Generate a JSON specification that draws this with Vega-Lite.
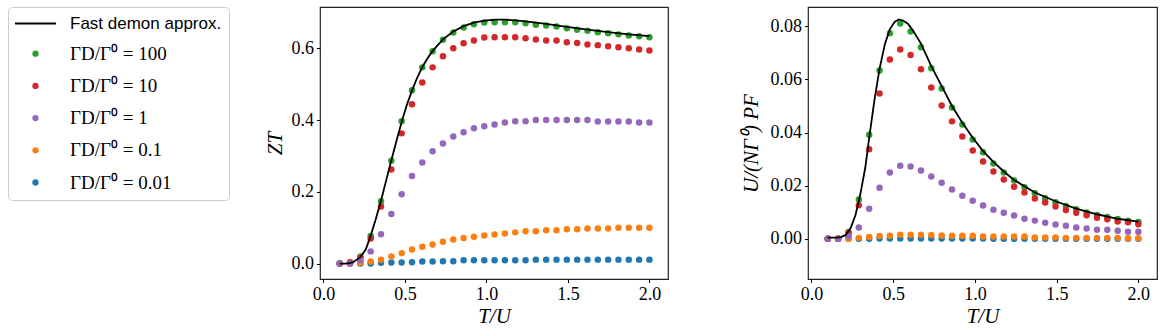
{
  "$schema": "https://vega.github.io/schema/vega-lite/v6.json",
  "background": "white",
  "padding": {"left": 7, "top": 6, "right": 5, "bottom": 0},
  "autosize": {"type": "pad"},
  "spacing": 70,
  "datasets": {
    "pts": [
      {"s":"0.01","x":0.1,"zt":0,"pf":0},{"s":"0.01","x":0.1633,"zt":0,"pf":0},{"s":"0.01","x":0.2267,"zt":0,"pf":0},{"s":"0.01","x":0.29,"zt":0,"pf":0},{"s":"0.01","x":0.3533,"zt":0.002,"pf":0},{"s":"0.01","x":0.4167,"zt":0.003,"pf":0.0001},{"s":"0.01","x":0.48,"zt":0.003,"pf":0.0001},{"s":"0.01","x":0.5433,"zt":0.004,"pf":0.0001},{"s":"0.01","x":0.6067,"zt":0.006,"pf":0.0001},{"s":"0.01","x":0.67,"zt":0.006,"pf":0.0001},{"s":"0.01","x":0.7333,"zt":0.0065,"pf":0.0001},{"s":"0.01","x":0.7967,"zt":0.0065,"pf":0.0001},{"s":"0.01","x":0.86,"zt":0.009,"pf":0.0001},{"s":"0.01","x":0.9233,"zt":0.009,"pf":0.0001},{"s":"0.01","x":0.9867,"zt":0.009,"pf":0.0001},{"s":"0.01","x":1.05,"zt":0.009,"pf":0.0001},{"s":"0.01","x":1.1133,"zt":0.009,"pf":0},{"s":"0.01","x":1.1767,"zt":0.009,"pf":0},{"s":"0.01","x":1.24,"zt":0.009,"pf":0},{"s":"0.01","x":1.3033,"zt":0.011,"pf":0},{"s":"0.01","x":1.3667,"zt":0.011,"pf":0},{"s":"0.01","x":1.43,"zt":0.011,"pf":0},{"s":"0.01","x":1.4933,"zt":0.011,"pf":0},{"s":"0.01","x":1.5567,"zt":0.011,"pf":0},{"s":"0.01","x":1.62,"zt":0.011,"pf":0},{"s":"0.01","x":1.6833,"zt":0.011,"pf":0},{"s":"0.01","x":1.7467,"zt":0.011,"pf":0},{"s":"0.01","x":1.81,"zt":0.011,"pf":0},{"s":"0.01","x":1.8733,"zt":0.011,"pf":0},{"s":"0.01","x":1.9367,"zt":0.011,"pf":0},{"s":"0.01","x":2.0,"zt":0.011,"pf":0},
      {"s":"0.1","x":0.1,"zt":0,"pf":0},{"s":"0.1","x":0.1633,"zt":0,"pf":0},{"s":"0.1","x":0.2267,"zt":0.002,"pf":0},{"s":"0.1","x":0.29,"zt":0.006,"pf":0.0003},{"s":"0.1","x":0.3533,"zt":0.011,"pf":0.0006},{"s":"0.1","x":0.4167,"zt":0.02,"pf":0.001},{"s":"0.1","x":0.48,"zt":0.029,"pf":0.0011},{"s":"0.1","x":0.5433,"zt":0.039,"pf":0.0015},{"s":"0.1","x":0.6067,"zt":0.047,"pf":0.0015},{"s":"0.1","x":0.67,"zt":0.053,"pf":0.0015},{"s":"0.1","x":0.7333,"zt":0.061,"pf":0.0014},{"s":"0.1","x":0.7967,"zt":0.067,"pf":0.0012},{"s":"0.1","x":0.86,"zt":0.071,"pf":0.0011},{"s":"0.1","x":0.9233,"zt":0.075,"pf":0.0011},{"s":"0.1","x":0.9867,"zt":0.078,"pf":0.0011},{"s":"0.1","x":1.05,"zt":0.081,"pf":0.0008},{"s":"0.1","x":1.1133,"zt":0.084,"pf":0.0008},{"s":"0.1","x":1.1767,"zt":0.087,"pf":0.0008},{"s":"0.1","x":1.24,"zt":0.09,"pf":0.0008},{"s":"0.1","x":1.3033,"zt":0.09,"pf":0.0008},{"s":"0.1","x":1.3667,"zt":0.093,"pf":0.0004},{"s":"0.1","x":1.43,"zt":0.093,"pf":0.0004},{"s":"0.1","x":1.4933,"zt":0.096,"pf":0.0004},{"s":"0.1","x":1.5567,"zt":0.096,"pf":0.0003},{"s":"0.1","x":1.62,"zt":0.098,"pf":0.0003},{"s":"0.1","x":1.6833,"zt":0.098,"pf":0.0003},{"s":"0.1","x":1.7467,"zt":0.098,"pf":0.0003},{"s":"0.1","x":1.81,"zt":0.1,"pf":0.0003},{"s":"0.1","x":1.8733,"zt":0.1,"pf":0.0003},{"s":"0.1","x":1.9367,"zt":0.1,"pf":0.0002},{"s":"0.1","x":2.0,"zt":0.1,"pf":0.0002},
      {"s":"100","x":0.1,"zt":0,"pf":0},{"s":"100","x":0.1633,"zt":0.002,"pf":0},{"s":"100","x":0.2267,"zt":0.02,"pf":0.0025},{"s":"100","x":0.29,"zt":0.077,"pf":0.0148},{"s":"100","x":0.3533,"zt":0.174,"pf":0.0392},{"s":"100","x":0.4167,"zt":0.287,"pf":0.0634},{"s":"100","x":0.48,"zt":0.397,"pf":0.0774},{"s":"100","x":0.5433,"zt":0.483,"pf":0.0811},{"s":"100","x":0.6067,"zt":0.547,"pf":0.0781},{"s":"100","x":0.67,"zt":0.592,"pf":0.0721},{"s":"100","x":0.7333,"zt":0.624,"pf":0.0642},{"s":"100","x":0.7967,"zt":0.644,"pf":0.0566},{"s":"100","x":0.86,"zt":0.658,"pf":0.0494},{"s":"100","x":0.9233,"zt":0.667,"pf":0.043},{"s":"100","x":0.9867,"zt":0.672,"pf":0.0374},{"s":"100","x":1.05,"zt":0.673,"pf":0.0326},{"s":"100","x":1.1133,"zt":0.673,"pf":0.0283},{"s":"100","x":1.1767,"zt":0.673,"pf":0.0249},{"s":"100","x":1.24,"zt":0.67,"pf":0.0219},{"s":"100","x":1.3033,"zt":0.666,"pf":0.0194},{"s":"100","x":1.3667,"zt":0.664,"pf":0.0171},{"s":"100","x":1.43,"zt":0.661,"pf":0.0152},{"s":"100","x":1.4933,"zt":0.656,"pf":0.0137},{"s":"100","x":1.5567,"zt":0.652,"pf":0.0123},{"s":"100","x":1.62,"zt":0.649,"pf":0.0111},{"s":"100","x":1.6833,"zt":0.645,"pf":0.0099},{"s":"100","x":1.7467,"zt":0.642,"pf":0.0089},{"s":"100","x":1.81,"zt":0.639,"pf":0.0082},{"s":"100","x":1.8733,"zt":0.636,"pf":0.0074},{"s":"100","x":1.9367,"zt":0.634,"pf":0.0068},{"s":"100","x":2.0,"zt":0.631,"pf":0.0063},
      {"s":"10","x":0.1,"zt":0,"pf":0},{"s":"10","x":0.1633,"zt":0.004,"pf":0},{"s":"10","x":0.2267,"zt":0.016,"pf":0.0021},{"s":"10","x":0.29,"zt":0.07,"pf":0.0126},{"s":"10","x":0.3533,"zt":0.159,"pf":0.0337},{"s":"10","x":0.4167,"zt":0.262,"pf":0.0547},{"s":"10","x":0.48,"zt":0.363,"pf":0.0675},{"s":"10","x":0.5433,"zt":0.444,"pf":0.0713},{"s":"10","x":0.6067,"zt":0.505,"pf":0.0692},{"s":"10","x":0.67,"zt":0.547,"pf":0.0638},{"s":"10","x":0.7333,"zt":0.578,"pf":0.057},{"s":"10","x":0.7967,"zt":0.6,"pf":0.0502},{"s":"10","x":0.86,"zt":0.614,"pf":0.0442},{"s":"10","x":0.9233,"zt":0.622,"pf":0.0385},{"s":"10","x":0.9867,"zt":0.63,"pf":0.0332},{"s":"10","x":1.05,"zt":0.631,"pf":0.0291},{"s":"10","x":1.1133,"zt":0.631,"pf":0.0253},{"s":"10","x":1.1767,"zt":0.631,"pf":0.0223},{"s":"10","x":1.24,"zt":0.628,"pf":0.0196},{"s":"10","x":1.3033,"zt":0.625,"pf":0.0174},{"s":"10","x":1.3667,"zt":0.622,"pf":0.0151},{"s":"10","x":1.43,"zt":0.622,"pf":0.0136},{"s":"10","x":1.4933,"zt":0.617,"pf":0.0121},{"s":"10","x":1.5567,"zt":0.615,"pf":0.0108},{"s":"10","x":1.62,"zt":0.611,"pf":0.0098},{"s":"10","x":1.6833,"zt":0.609,"pf":0.0088},{"s":"10","x":1.7467,"zt":0.606,"pf":0.0079},{"s":"10","x":1.81,"zt":0.603,"pf":0.0073},{"s":"10","x":1.8733,"zt":0.6,"pf":0.0065},{"s":"10","x":1.9367,"zt":0.597,"pf":0.0062},{"s":"10","x":2.0,"zt":0.594,"pf":0.0054},
      {"s":"1","x":0.1,"zt":0,"pf":0},{"s":"1","x":0.1633,"zt":0,"pf":0},{"s":"1","x":0.2267,"zt":0.009,"pf":0.0009},{"s":"1","x":0.29,"zt":0.034,"pf":0.0042},{"s":"1","x":0.3533,"zt":0.082,"pf":0.0113},{"s":"1","x":0.4167,"zt":0.138,"pf":0.0192},{"s":"1","x":0.48,"zt":0.193,"pf":0.0249},{"s":"1","x":0.5433,"zt":0.244,"pf":0.0275},{"s":"1","x":0.6067,"zt":0.282,"pf":0.0272},{"s":"1","x":0.67,"zt":0.313,"pf":0.0257},{"s":"1","x":0.7333,"zt":0.335,"pf":0.0234},{"s":"1","x":0.7967,"zt":0.354,"pf":0.0211},{"s":"1","x":0.86,"zt":0.366,"pf":0.0185},{"s":"1","x":0.9233,"zt":0.377,"pf":0.0162},{"s":"1","x":0.9867,"zt":0.383,"pf":0.0143},{"s":"1","x":1.05,"zt":0.388,"pf":0.0125},{"s":"1","x":1.1133,"zt":0.3935,"pf":0.0109},{"s":"1","x":1.1767,"zt":0.397,"pf":0.0098},{"s":"1","x":1.24,"zt":0.397,"pf":0.0087},{"s":"1","x":1.3033,"zt":0.4,"pf":0.0075},{"s":"1","x":1.3667,"zt":0.4,"pf":0.0068},{"s":"1","x":1.43,"zt":0.4,"pf":0.006},{"s":"1","x":1.4933,"zt":0.4,"pf":0.0053},{"s":"1","x":1.5567,"zt":0.4,"pf":0.0049},{"s":"1","x":1.62,"zt":0.4,"pf":0.0042},{"s":"1","x":1.6833,"zt":0.396,"pf":0.0038},{"s":"1","x":1.7467,"zt":0.396,"pf":0.0034},{"s":"1","x":1.81,"zt":0.396,"pf":0.0034},{"s":"1","x":1.8733,"zt":0.396,"pf":0.003},{"s":"1","x":1.9367,"zt":0.3935,"pf":0.0026},{"s":"1","x":2.0,"zt":0.3935,"pf":0.0026}
    ],
    "fastL": [
      {"x":0.1,"v":0},{"x":0.14,"v":0},{"x":0.18,"v":0.003},{"x":0.2267,"v":0.018},{"x":0.26,"v":0.04},{"x":0.29,"v":0.078},{"x":0.32,"v":0.122},{"x":0.3533,"v":0.175},{"x":0.385,"v":0.232},{"x":0.4167,"v":0.288},{"x":0.45,"v":0.345},{"x":0.48,"v":0.395},{"x":0.51,"v":0.44},{"x":0.5433,"v":0.482},{"x":0.575,"v":0.518},{"x":0.6067,"v":0.548},{"x":0.64,"v":0.573},{"x":0.67,"v":0.593},{"x":0.7333,"v":0.625},{"x":0.7967,"v":0.647},{"x":0.86,"v":0.662},{"x":0.9233,"v":0.672},{"x":0.9867,"v":0.677},{"x":1.05,"v":0.68},{"x":1.1133,"v":0.68},{"x":1.1767,"v":0.678},{"x":1.24,"v":0.675},{"x":1.3667,"v":0.668},{"x":1.4933,"v":0.66},{"x":1.62,"v":0.652},{"x":1.7467,"v":0.645},{"x":1.8733,"v":0.639},{"x":2.0,"v":0.634}
    ],
    "fastR": [
      {"x":0.1,"v":0.0004},{"x":0.15,"v":0.0004},{"x":0.18,"v":0.0006},{"x":0.21,"v":0.0014},{"x":0.24,"v":0.004},{"x":0.27,"v":0.009},{"x":0.3,"v":0.017},{"x":0.33,"v":0.027},{"x":0.3533,"v":0.038},{"x":0.385,"v":0.052},{"x":0.4167,"v":0.064},{"x":0.45,"v":0.0735},{"x":0.48,"v":0.079},{"x":0.51,"v":0.0818},{"x":0.535,"v":0.0826},{"x":0.56,"v":0.0822},{"x":0.59,"v":0.081},{"x":0.62,"v":0.0785},{"x":0.67,"v":0.0735},{"x":0.7333,"v":0.065},{"x":0.7967,"v":0.0575},{"x":0.86,"v":0.05},{"x":0.9233,"v":0.0437},{"x":0.9867,"v":0.038},{"x":1.05,"v":0.033},{"x":1.1133,"v":0.0289},{"x":1.1767,"v":0.0253},{"x":1.24,"v":0.0221},{"x":1.3667,"v":0.0174},{"x":1.4933,"v":0.0141},{"x":1.62,"v":0.0113},{"x":1.7467,"v":0.0092},{"x":1.8733,"v":0.0075},{"x":2.0,"v":0.0064}
    ]
  },
  "resolve": {"scale": {"color": "shared", "shape": "shared"}, "legend": {"color": "shared", "shape": "shared"}},
  "hconcat": [
    {
      "width": 348, "height": 272,
      "layer": [
        {
          "data": {"name": "pts"},
          "mark": {"type": "point", "filled": true, "size": 42, "opacity": 1},
          "encoding": {
            "x": {"field": "x", "type": "quantitative", "scale": {"domain": [-0.021, 2.114], "nice": false, "zero": false}, "axis": {"values": [0, 0.5, 1, 1.5, 2], "format": ".1f", "title": "T/U"}},
            "y": {"field": "zt", "type": "quantitative", "scale": {"domain": [-0.043, 0.7153], "nice": false, "zero": false}, "axis": {"values": [0, 0.2, 0.4, 0.6], "format": ".1f", "title": "ZT", "titlePadding": 6}},
            "color": {"field": "s", "type": "nominal",
              "scale": {"domain": ["fast", "100", "10", "1", "0.1", "0.01"], "range": ["#000000", "#2ca02c", "#d62728", "#9467bd", "#ff7f0e", "#1f77b4"]},
              "legend": {"labelExpr": "datum.value == 'fast' ? 'Fast demon approx.' : 'ΓD/Γ⁰ = ' + datum.value"}},
            "shape": {"field": "s", "type": "nominal",
              "scale": {"domain": ["fast", "100", "10", "1", "0.1", "0.01"], "range": ["M-6.5,0H6.5", "circle", "circle", "circle", "circle", "circle"]},
              "legend": {"labelExpr": "datum.value == 'fast' ? 'Fast demon approx.' : 'ΓD/Γ⁰ = ' + datum.value"}}
          }
        },
        {
          "data": {"name": "fastL"},
          "mark": {"type": "line", "color": "#000000", "strokeWidth": 1.8},
          "encoding": {
            "x": {"field": "x", "type": "quantitative"},
            "y": {"field": "v", "type": "quantitative"}
          }
        }
      ]
    },
    {
      "width": 349, "height": 272,
      "layer": [
        {
          "data": {"name": "pts"},
          "mark": {"type": "point", "filled": true, "size": 42, "opacity": 1},
          "encoding": {
            "x": {"field": "x", "type": "quantitative", "scale": {"domain": [-0.021, 2.114], "nice": false, "zero": false}, "axis": {"values": [0, 0.5, 1, 1.5, 2], "format": ".1f", "title": "T/U"}},
            "y": {"field": "pf", "type": "quantitative", "scale": {"domain": [-0.0152, 0.0873], "nice": false, "zero": false}, "axis": {"values": [0, 0.02, 0.04, 0.06, 0.08], "format": ".2f", "title": "U/(NΓ⁰) PF", "titlePadding": 9}},
            "color": {"field": "s", "type": "nominal", "legend": {"labelExpr": "datum.value == 'fast' ? 'Fast demon approx.' : 'ΓD/Γ⁰ = ' + datum.value"}},
            "shape": {"field": "s", "type": "nominal", "legend": {"labelExpr": "datum.value == 'fast' ? 'Fast demon approx.' : 'ΓD/Γ⁰ = ' + datum.value"}}
          }
        },
        {
          "data": {"name": "fastR"},
          "mark": {"type": "line", "color": "#000000", "strokeWidth": 1.8},
          "encoding": {
            "x": {"field": "x", "type": "quantitative"},
            "y": {"field": "v", "type": "quantitative"}
          }
        }
      ]
    }
  ],
  "config": {
    "view": {"stroke": "#222222", "strokeWidth": 1.2},
    "axis": {"grid": false, "domain": false, "ticks": true, "tickColor": "#000000", "tickSize": 3.5, "tickWidth": 1,
      "labelFont": "Liberation Serif", "labelFontSize": 18, "labelColor": "#000000", "labelPadding": 3,
      "titleFont": "Liberation Serif", "titleFontStyle": "italic", "titleFontWeight": "normal", "titleFontSize": 21, "titleColor": "#000000"},
    "axisX": {"titlePadding": 2},
    "legend": {"orient": "left", "offset": 34, "title": null, "padding": 7, "symbolOffset": 11, "rowPadding": 12.2,
      "labelFontSize": {"expr": "datum.value == 'fast' ? 17 : 19"},
      "labelFont": {"expr": "datum.value == 'fast' ? 'Liberation Sans' : 'Liberation Serif'"},
      "symbolStrokeColor": "#000000",
      "symbolStrokeWidth": {"expr": "datum.value == 'fast' ? 1.8 : 0"},
      "labelColor": "#000000",
      "strokeColor": "#cccccc", "fillColor": "#ffffff", "cornerRadius": 4, "symbolSize": 40, "labelOffset": 25, "labelLimit": 400}
  }
}
